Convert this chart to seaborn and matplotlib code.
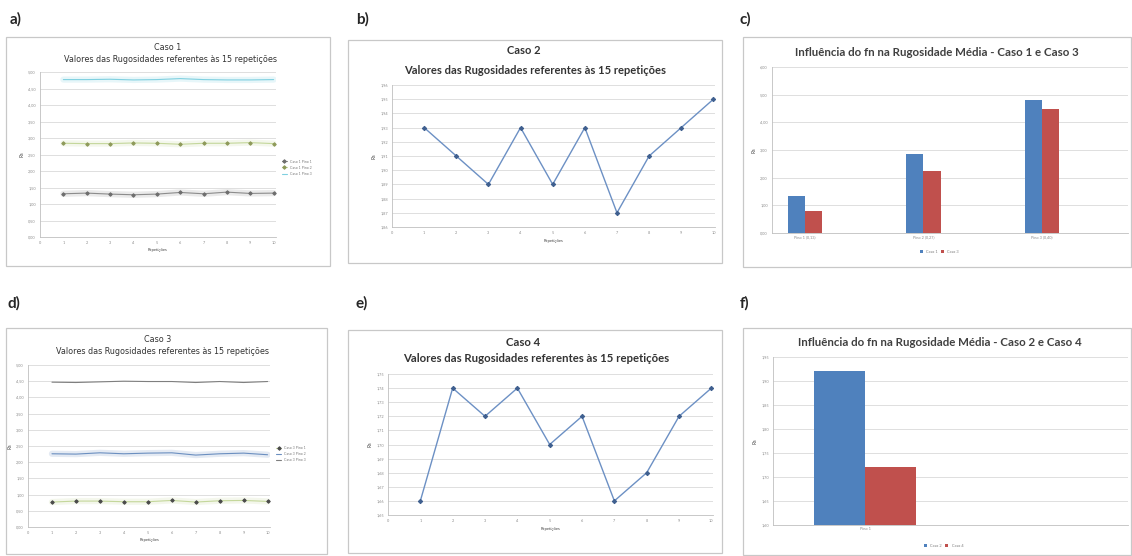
import matplotlib
matplotlib.use("Agg")
import matplotlib.pyplot as plt
import matplotlib.ticker as mticker
from matplotlib.patches import Rectangle
import seaborn as sns
import pandas as pd

# ---------------- data ----------------
repeticoes = list(range(1, 11))

caso1_pino1 = [1.31, 1.33, 1.30, 1.28, 1.30, 1.35, 1.31, 1.36, 1.32, 1.33]
caso1_pino2 = [2.84, 2.83, 2.83, 2.85, 2.84, 2.81, 2.84, 2.84, 2.86, 2.83]
caso1_pino3 = [4.77, 4.77, 4.78, 4.76, 4.77, 4.80, 4.77, 4.76, 4.76, 4.77]

caso3_pino1 = [0.77, 0.80, 0.80, 0.78, 0.78, 0.82, 0.77, 0.81, 0.82, 0.79]
caso3_pino2 = [2.26, 2.25, 2.29, 2.26, 2.28, 2.29, 2.22, 2.26, 2.28, 2.23]
caso3_pino3 = [4.47, 4.46, 4.48, 4.50, 4.49, 4.49, 4.46, 4.49, 4.46, 4.49]

caso2_pino1 = [1.93, 1.91, 1.89, 1.93, 1.89, 1.93, 1.87, 1.91, 1.93, 1.95]
caso4_pino1 = [1.66, 1.74, 1.72, 1.74, 1.70, 1.72, 1.66, 1.68, 1.72, 1.74]

pinos_c = ["Pino 1 (0,13)", "Pino 2 (0,27)", "Pino 3 (0,40)"]
media_caso1 = [1.33, 2.87, 4.82]
media_caso3 = [0.80, 2.25, 4.48]

pinos_f = ["Pino 1"]
media_caso2 = [1.92]
media_caso4 = [1.72]

legend_a = ["Caso 1 Pino 1", "Caso 1 Pino 2", "Caso 1 Pino 3"]
legend_d = ["Caso 3 Pino 1", "Caso 3 Pino 2", "Caso 3 Pino 3"]

titulo_rep = "Valores das Rugosidades referentes às 15 repetições"
titulo_c = "Influência do fn na Rugosidade Média - Caso 1 e Caso 3"
titulo_f = "Influência do fn na Rugosidade Média - Caso 2 e Caso 4"

# ---------------- style ----------------
sns.set_style("white")
plt.rcParams['font.family'] = ['Lato', 'DejaVu Sans']

W, H = 1132, 556
fig = plt.figure(figsize=(W / 100, H / 100), dpi=100)
fig.patch.set_facecolor('white')

BLUE = '#4F81BD'
RED = '#C0504D'
GRID = '#D9D9D9'


def px_axes(x0, y0, x1, y1):
    return fig.add_axes([x0 / W, 1 - y1 / H, (x1 - x0) / W, (y1 - y0) / H])


def box(x0, y0, x1, y1):
    fig.patches.append(Rectangle((x0 / W, 1 - y1 / H), (x1 - x0) / W, (y1 - y0) / H,
                                 transform=fig.transFigure, fill=False,
                                 edgecolor='#C8C8C8', linewidth=0.9))


def style(ax, ts=3.2):
    ax.set_facecolor('white')
    for s in ['top', 'right']:
        ax.spines[s].set_visible(False)
    for s in ['left', 'bottom']:
        ax.spines[s].set_color('#BFBFBF')
        ax.spines[s].set_linewidth(0.6)
    ax.grid(axis='y', color=GRID, linewidth=0.6)
    ax.grid(axis='x', visible=False)
    ax.set_axisbelow(True)
    ax.tick_params(labelsize=ts, length=1.5, width=0.4, color='#BFBFBF',
                   labelcolor='#8C8C8C', pad=1.5)
    ax.yaxis.set_major_formatter(mticker.FuncFormatter(lambda v, p: f"{v:.2f}".replace('.', ',')))


def letter(x, y, s):
    fig.text(x / W, 1 - y / H, s, fontsize=11, fontweight='bold', color='#262626',
             ha='left', va='center')


def title(x, y, s, size, weight='normal', family=None, color='#404040'):
    kw = {}
    if family:
        kw['family'] = family
    fig.text(x / W, 1 - y / H, s, fontsize=size, fontweight=weight, ha='center',
             va='center', color=color, **kw)


# panel letters
letter(10, 19, "a)")
letter(356, 19, "b)")
letter(740, 19, "c)")
letter(8, 303, "d)")
letter(356, 303, "e)")
letter(740, 303, "f)")

# boxes
box(6, 37, 330, 266)
box(348, 40, 722, 263)
box(743, 37, 1131, 267)
box(6, 328, 327, 554)
box(348, 330, 722, 553)
box(743, 328, 1131, 555)


def rep_panel(ax, series, labels, colors, mcolors, ylim, yticks, glow):
    for vals, lab, col, mc, g in zip(series, labels, colors, mcolors, glow):
        if g:
            sns.lineplot(x=repeticoes, y=vals, ax=ax, color=col, linewidth=4.5,
                         alpha=0.18, legend=False)
        sns.lineplot(x=repeticoes, y=vals, ax=ax, color=col, linewidth=0.8,
                     marker='D' if mc else None, markersize=1.8,
                     markerfacecolor=mc, markeredgecolor=mc, label=lab)
    style(ax, ts=2.8)
    ax.set_xlim(0, 10.1)
    ax.set_xticks(range(0, 11))
    ax.set_ylim(*ylim)
    ax.set_yticks(yticks)
    ax.set_xlabel("Repetições", fontsize=3, color='#404040', labelpad=2)
    ax.set_ylabel("Ra", fontsize=3.5, color='#404040', labelpad=3)


# ---------- a) ----------
ax_a = px_axes(40, 72, 276, 237)
rep_panel(ax_a, [caso1_pino1, caso1_pino2, caso1_pino3], legend_a,
          ['#8C8C8C', '#C4D79B', '#7FD0E0'], ['#6E6E6E', '#8E9A5A', None],
          (0, 5), [i * 0.5 for i in range(11)], [True, True, True])
ax_a.legend(loc='center left', bbox_to_anchor=(1.01, 0.42), frameon=False,
            fontsize=2.6, handlelength=1.6, labelspacing=0.6, labelcolor='#7F7F7F')
title(168, 48, "Caso 1", 5.8, family='DejaVu Sans', color='#333333')
title(170, 60, titulo_rep, 5.8, family='DejaVu Sans', color='#333333')

# ---------- d) ----------
ax_d = px_axes(28, 365, 270, 527)
rep_panel(ax_d, [caso3_pino1, caso3_pino2, caso3_pino3], legend_d,
          ['#C4D79B', '#6B8FC0', '#7F7F7F'], ['#4A4A4A', None, None],
          (0, 5), [i * 0.5 for i in range(11)], [True, True, False])
ax_d.legend(loc='center left', bbox_to_anchor=(1.01, 0.45), frameon=False,
            fontsize=2.6, handlelength=1.6, labelspacing=0.6, labelcolor='#7F7F7F')
title(158, 340, "Caso 3", 5.8, family='DejaVu Sans', color='#333333')
title(163, 351, titulo_rep, 5.8, family='DejaVu Sans', color='#333333')

# ---------- b) ----------
ax_b = px_axes(392, 85, 715, 227)
sns.lineplot(x=repeticoes, y=caso2_pino1, ax=ax_b, color='#6C90C4', linewidth=1.0,
             marker='D', markersize=2.2, markerfacecolor='#3F5F8F', markeredgecolor='#3F5F8F')
style(ax_b, ts=2.8)
ax_b.set_xlim(0, 10.05)
ax_b.set_xticks(range(0, 11))
ax_b.set_ylim(1.86, 1.96)
ax_b.set_yticks([1.86 + i * 0.01 for i in range(11)])
ax_b.set_xlabel("Repetições", fontsize=3, color='#404040', labelpad=3)
ax_b.set_ylabel("Ra", fontsize=3.5, color='#404040', labelpad=3)
title(524, 50, "Caso 2", 8.0, weight='bold', color='#333333')
title(535, 70, titulo_rep, 8.0, weight='bold', color='#333333')

# ---------- e) ----------
ax_e = px_axes(388, 374, 713, 515)
sns.lineplot(x=repeticoes, y=caso4_pino1, ax=ax_e, color='#6C90C4', linewidth=1.0,
             marker='D', markersize=2.2, markerfacecolor='#3F5F8F', markeredgecolor='#3F5F8F')
style(ax_e, ts=2.8)
ax_e.set_xlim(0, 10.05)
ax_e.set_xticks(range(0, 11))
ax_e.set_ylim(1.65, 1.75)
ax_e.set_yticks([1.65 + i * 0.01 for i in range(11)])
ax_e.set_xlabel("Repetições", fontsize=3, color='#404040', labelpad=3)
ax_e.set_ylabel("Ra", fontsize=3.5, color='#404040', labelpad=3)
title(523, 343, "Caso 4", 8.2, weight='bold', color='#333333')
title(536, 358, titulo_rep, 8.2, weight='bold', color='#333333')

# ---------- c) ----------
ax_c = px_axes(772, 67, 1128, 233)
df_c = pd.DataFrame({
    "Pino": pinos_c * 2,
    "Ra": media_caso1 + media_caso3,
    "Caso": ["Caso 1"] * len(pinos_c) + ["Caso 3"] * len(pinos_c),
})
sns.barplot(data=df_c, x="Pino", y="Ra", hue="Caso", palette=[BLUE, RED],
            width=0.29, saturation=1, errorbar=None, linewidth=0, ax=ax_c)
style(ax_c, ts=2.8)
ax_c.set_xlim(-0.28, 2.73)
ax_c.set_ylim(0, 6)
ax_c.set_yticks(range(0, 7))
ax_c.set_xlabel("")
ax_c.set_ylabel("Ra", fontsize=3.5, color='#404040', labelpad=3)
ax_c.tick_params(axis='x', length=0)
ax_c.legend(loc='upper center', bbox_to_anchor=(0.47, -0.08), ncol=2, frameon=False,
            fontsize=2.8, handlelength=0.8, handleheight=0.8, columnspacing=1.0,
            labelcolor='#7F7F7F')
title(937, 52, titulo_c, 8.3, weight='bold')

# ---------- f) ----------
ax_f = px_axes(773, 357, 1128, 525)
df_f = pd.DataFrame({
    "Pino": pinos_f * 2,
    "Ra": media_caso2 + media_caso4,
    "Caso": ["Caso 2"] * len(pinos_f) + ["Caso 4"] * len(pinos_f),
})
sns.barplot(data=df_f, x="Pino", y="Ra", hue="Caso", palette=[BLUE, RED],
            width=0.8, saturation=1, errorbar=None, linewidth=0, ax=ax_f)
style(ax_f, ts=2.8)
ax_f.set_xlim(-0.72, 2.06)
ax_f.set_ylim(1.60, 1.95)
ax_f.set_yticks([1.60 + i * 0.05 for i in range(8)])
ax_f.set_xlabel("")
ax_f.set_ylabel("Ra", fontsize=3.5, color='#404040', labelpad=3)
ax_f.tick_params(axis='x', length=0)
ax_f.legend(loc='upper center', bbox_to_anchor=(0.48, -0.09), ncol=2, frameon=False,
            fontsize=2.8, handlelength=0.8, handleheight=0.8, columnspacing=1.0,
            labelcolor='#7F7F7F')
title(940, 343, titulo_f, 8.3, weight='bold')

fig.savefig("out.png", dpi=100, facecolor='white')
